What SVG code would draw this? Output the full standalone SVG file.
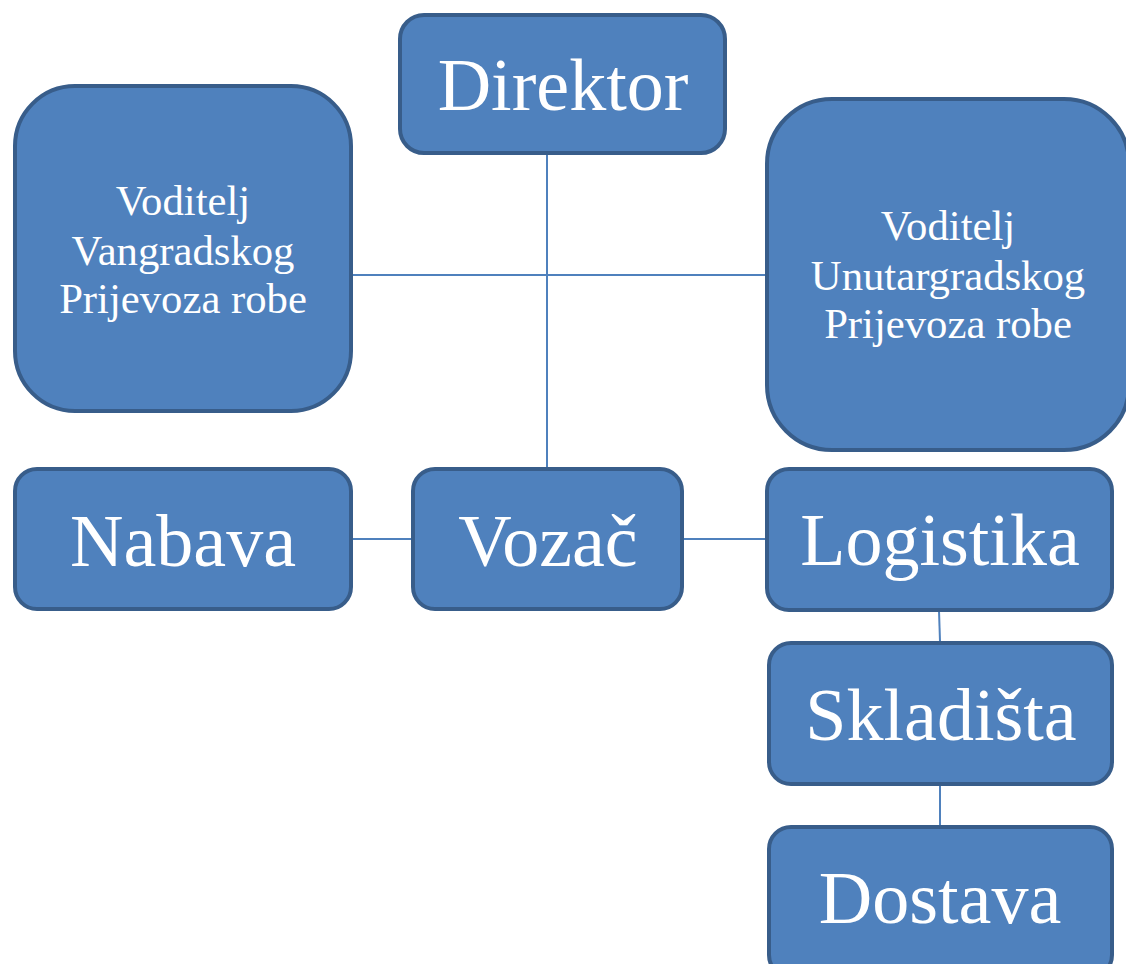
<svg xmlns="http://www.w3.org/2000/svg" width="1126" height="964" viewBox="0 0 1126 964">
<style>
.box{fill:#4f81bd;stroke:#385d8a;stroke-width:4}
.t{fill:#fff;font-family:"Liberation Serif","Times New Roman",serif;text-anchor:middle}
.big{font-size:74px}
.sm{font-size:42.7px}
.c{stroke:#4f81bd;stroke-width:2;fill:none}
</style>
<rect width="1126" height="964" fill="#fff"/>
<g id="connectors">
<line class="c" x1="547" y1="155" x2="547" y2="467"/>
<line class="c" x1="353" y1="275" x2="765" y2="275"/>
<line class="c" x1="353" y1="539" x2="411" y2="539"/>
<line class="c" x1="684" y1="539" x2="765" y2="539"/>
<line class="c" x1="939" y1="611" x2="940" y2="641"/>
<line class="c" x1="940" y1="786" x2="940" y2="825"/>
</g>
<g id="direktor">
<rect class="box" x="400" y="15" width="325" height="138" rx="24"/>
<text class="t big" x="563" y="110">Direktor</text>
</g>
<g id="vangradski">
<rect class="box" x="15" y="86" width="336" height="325" rx="60"/>
<text class="t sm" x="183" y="215">Voditelj</text>
<text class="t sm" x="183" y="265">Vangradskog</text>
<text class="t sm" x="183" y="313">Prijevoza robe</text>
</g>
<g id="unutargradski">
<rect class="box" x="767" y="99" width="362" height="351" rx="65"/>
<text class="t sm" x="948" y="240">Voditelj</text>
<text class="t sm" x="948" y="290">Unutargradskog</text>
<text class="t sm" x="948" y="338">Prijevoza robe</text>
</g>
<g id="nabava">
<rect class="box" x="15" y="469" width="336" height="140" rx="22"/>
<text class="t big" x="183" y="566">Nabava</text>
</g>
<g id="vozac">
<rect class="box" x="413" y="469" width="269" height="140" rx="22"/>
<text class="t big" x="548" y="566">Vozač</text>
</g>
<g id="logistika">
<rect class="box" x="767" y="469" width="345" height="141" rx="22"/>
<text class="t big" x="940" y="565">Logistika</text>
</g>
<g id="skladista">
<rect class="box" x="769" y="643" width="343" height="141" rx="22"/>
<text class="t big" x="941" y="740">Skladišta</text>
</g>
<g id="dostava">
<rect class="box" x="769" y="827" width="343" height="150" rx="22"/>
<text class="t big" x="940" y="923">Dostava</text>
</g>
</svg>
